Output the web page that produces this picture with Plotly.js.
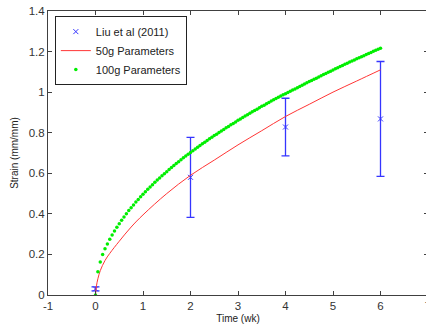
<!DOCTYPE html>
<html>
<head>
<meta charset="utf-8">
<script src="https://cdn.plot.ly/plotly-3.0.1.min.js"></script>
<style>
html,body{margin:0;padding:0;overflow:hidden;background:#fff;width:426px;height:330px;}
#plot{width:440px;height:330px;}
</style>
</head>
<body>
<div id="plot"></div>
<script>
// Liu et al (2011) experimental data
const liuTime = [0, 2, 4, 6];
const liuStrain = [0.03, 0.58, 0.828, 0.868];
const liuErr = [0.01, 0.197, 0.142, 0.283];

// 50g Parameters model (line)
const time50 = [0, 0.02, 0.05, 0.1, 0.2, 0.3, 0.5, 0.75, 1, 1.5, 2, 2.5, 3, 3.5, 4, 4.5, 5, 5.5, 6];
const strain50 = [0, 0.045, 0.08, 0.12, 0.17, 0.205, 0.265, 0.335, 0.395, 0.50, 0.59, 0.665, 0.74, 0.81, 0.88, 0.94, 1.0, 1.055, 1.11];

// 100g Parameters model (dots)
const time100 = [0,0.05,0.1,0.15,0.2,0.25,0.3,0.35,0.4,0.45,0.5,0.55,0.6,0.65,0.7,0.75,0.8,0.85,0.9,0.95,
1,1.05,1.1,1.15,1.2,1.25,1.3,1.35,1.4,1.45,1.5,1.55,1.6,1.65,1.7,1.75,1.8,1.85,1.9,1.95,
2,2.05,2.1,2.15,2.2,2.25,2.3,2.35,2.4,2.45,2.5,2.55,2.6,2.65,2.7,2.75,2.8,2.85,2.9,2.95,
3,3.05,3.1,3.15,3.2,3.25,3.3,3.35,3.4,3.45,3.5,3.55,3.6,3.65,3.7,3.75,3.8,3.85,3.9,3.95,
4,4.05,4.1,4.15,4.2,4.25,4.3,4.35,4.4,4.45,4.5,4.55,4.6,4.65,4.7,4.75,4.8,4.85,4.9,4.95,
5,5.05,5.1,5.15,5.2,5.25,5.3,5.35,5.4,5.45,5.5,5.55,5.6,5.65,5.7,5.75,5.8,5.85,5.9,5.95,6];
const strain100 = [0,0.115,0.163,0.2,0.228,0.252,0.275,0.296,0.315,0.334,0.351,0.369,0.385,0.401,0.416,0.430,0.444,0.458,0.471,0.484,
0.497,0.509,0.521,0.533,0.544,0.556,0.567,0.577,0.588,0.598,0.608,0.619,0.628,0.638,0.648,0.657,0.667,0.676,0.685,0.694,
0.703,0.711,0.720,0.728,0.737,0.745,0.753,0.762,0.770,0.778,0.786,0.793,0.801,0.809,0.816,0.824,0.831,0.839,0.846,0.853,
0.861,0.868,0.875,0.882,0.889,0.896,0.903,0.909,0.916,0.923,0.930,0.936,0.943,0.949,0.956,0.962,0.969,0.975,0.981,0.987,
0.992,0.998,1.004,1.010,1.016,1.022,1.028,1.034,1.040,1.046,1.052,1.058,1.064,1.069,1.075,1.081,1.087,1.092,1.098,1.103,
1.109,1.115,1.120,1.126,1.131,1.137,1.142,1.148,1.153,1.158,1.164,1.169,1.174,1.180,1.185,1.190,1.196,1.201,1.206,1.211,1.216];

// Tick labels
const xTickVals = [-1, 0, 1, 2, 3, 4, 5, 6, 7];
const xTickText = ['-1', '0', '1', '2', '3', '4', '5', '6', '7'];
const yTickVals = [0, 0.2, 0.4, 0.6, 0.8, 1, 1.2, 1.4];
const yTickText = ['0', '0.2', '0.4', '0.6', '0.8', '1', '1.2', '1.4'];

const font = 'Liberation Sans, Arial, sans-serif';

const traces = [
  {
    x: liuTime, y: liuStrain, name: 'Liu et al (2011)', type: 'scatter', mode: 'markers',
    marker: {symbol: 'x-thin-open', size: 5, color: '#3535ff', line: {width: 1, color: '#3535ff'}},
    error_y: {type: 'data', array: liuErr, visible: true, color: '#3535ff', thickness: 1.3, width: 4}
  },
  {
    x: time50, y: strain50, name: '50g Parameters', type: 'scatter', mode: 'lines',
    line: {color: '#ff3535', width: 1, shape: 'spline', smoothing: 1}
  },
  {
    x: time100, y: strain100, name: '100g Parameters', type: 'scatter', mode: 'markers',
    marker: {symbol: 'circle', size: 3.5, color: '#00ee00', line: {width: 0}}
  }
];

const axisCommon = {
  showline: true, linecolor: '#404040', linewidth: 1, mirror: 'ticks',
  ticks: 'inside', ticklen: 4, tickcolor: '#404040', tickwidth: 1,
  showgrid: false, zeroline: false,
  tickfont: {family: font, size: 11.5, color: '#333'}
};

const layout = {
  width: 440, height: 330,
  margin: {l: 48, r: 12, t: 11, b: 35},
  paper_bgcolor: '#fff', plot_bgcolor: '#fff',
  showlegend: true,
  xaxis: Object.assign({}, axisCommon, {
    range: [-1, 7], tickvals: xTickVals, ticktext: xTickText,
    title: {text: 'Time (wk)', font: {family: font, size: 10, color: '#222'}, standoff: 4}
  }),
  yaxis: Object.assign({}, axisCommon, {
    range: [0, 1.4], tickvals: yTickVals, ticktext: yTickText,
    title: {text: 'Strain (mm/mm)', font: {family: font, size: 10, color: '#222'}, standoff: 8}
  }),
  legend: {
    x: 0.018, y: 0.982, xanchor: 'left', yanchor: 'top',
    bgcolor: '#fff', bordercolor: '#222', borderwidth: 1,
    font: {family: font, size: 11, color: '#222'},
    tracegroupgap: 0, itemwidth: 30
  }
};

Plotly.newPlot('plot', traces, layout, {displayModeBar: false, staticPlot: true});
</script>
</body>
</html>
